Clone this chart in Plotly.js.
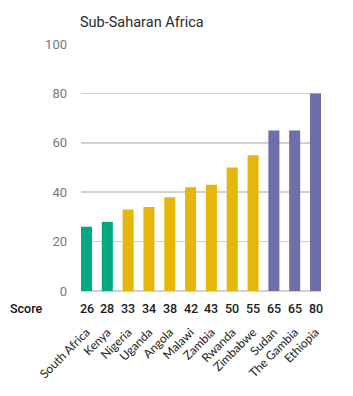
<!DOCTYPE html>
<html><head><meta charset="utf-8">
<script src="https://cdn.plot.ly/plotly-3.0.1.min.js"></script>
<style>html,body{margin:0;padding:0;background:#fff}#c{width:353px;height:396px}</style>
</head><body><div id="c"></div>
<script>
const countries = ["South Africa","Kenya","Nigeria","Uganda","Angola","Malawi","Zambia","Rwanda","Zimbabwe","Sudan","The Gambia","Ethiopia"];
const scores = [26,28,33,34,38,42,43,50,55,65,65,80];
const groups = ["g","g","y","y","y","y","y","y","y","p","p","p"];
const groupColors = {g:"#00a982", y:"#e6b70b", p:"#6c6fa9"};
const yTicks = [0,20,40,60,80,100];

const idx = countries.map((_, i) => i);
const trace = {
  type: "bar",
  x: idx,
  y: scores,
  width: 0.53,
  marker: {color: groups.map(g => groupColors[g])},
  hoverinfo: "skip"
};
const annotations = scores.map((s, i) => ({
  x: i, xref: "x", y: 0, yref: "paper", yanchor: "middle", yshift: -17,
  text: String(s), showarrow: false,
  font: {family: "Roboto, Liberation Sans, sans-serif", size: 12.5, color: "#1a1a1a", weight: 500}
}));
annotations.push({
  x: 0, xref: "paper", xanchor: "left", xshift: -73, y: 0, yref: "paper", yanchor: "middle", yshift: -17,
  text: "Score", showarrow: false,
  font: {family: "Roboto, Liberation Sans, sans-serif", size: 12.5, color: "#111", weight: 500}
});
const layout = {
  width: 353, height: 396,
  margin: {l: 81, r: 32, t: 44, b: 104.5},
  paper_bgcolor: "#fff", plot_bgcolor: "#fff",
  showlegend: false,
  title: {text: "Sub-Saharan Africa", x: 80/353, xanchor: "left", xref: "container", y: 1 - 22/396, yanchor: "middle",
    font: {family: "Roboto, Liberation Sans, sans-serif", size: 14.5, color: "#2a2a2a"}},
  xaxis: {
    range: [-0.264, 11.264], tickmode: "array", tickvals: idx, ticktext: countries,
    tickangle: -45, ticklabelstandoff: 31, ticks: "", showgrid: false, zeroline: false, showline: false,
    tickfont: {family: "Lato, Carlito, sans-serif", size: 12, color: "#222"}, fixedrange: true
  },
  yaxis: {
    range: [0, 100], tickmode: "array", tickvals: yTicks, ticktext: yTicks.map(String),
    showgrid: true, gridcolor: "#d2d2d2", gridwidth: 1.5, zeroline: true, zerolinecolor: "#d2d2d2", zerolinewidth: 1.5,
    showline: false, ticks: "", ticklabelstandoff: 13,
    tickfont: {family: "Roboto, Liberation Sans, sans-serif", size: 13, color: "#777"}, fixedrange: true
  },
  annotations: annotations,
  bargap: 0.47
};
Plotly.newPlot("c", [trace], layout, {displayModeBar: false, staticPlot: true});
</script></body></html>
